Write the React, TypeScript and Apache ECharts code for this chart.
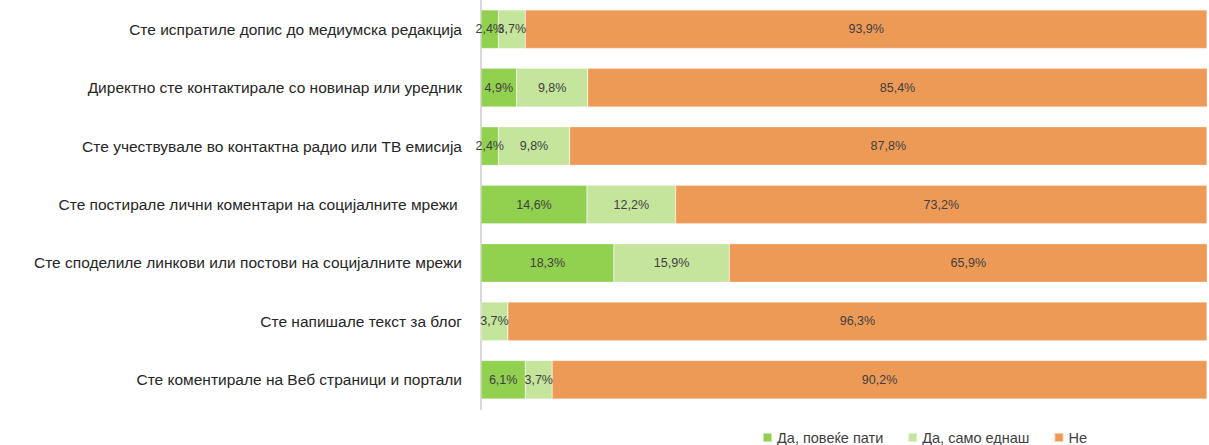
import React, { useEffect, useRef } from "react";
import * as echarts from "echarts";

const categories = [
  "Сте испратиле допис до медиумска редакција",
  "Директно сте контактирале со новинар или уредник",
  "Сте учествувале во контактна радио или ТВ емисија",
  "Сте постирале лични коментари на социјалните мрежи ",
  "Сте споделиле линкови или постови на социјалните мрежи",
  "Сте напишале текст за блог",
  "Сте коментирале на Веб страници и портали",
];
const seriesNames = ["Да, повеќе пати", "Да, само еднаш", "Не"];
const manyTimes = [2.4, 4.9, 2.4, 14.6, 18.3, 0, 6.1];
const once = [3.7, 9.8, 9.8, 12.2, 15.9, 3.7, 3.7];
const never = [93.9, 85.4, 87.8, 73.2, 65.9, 96.3, 90.2];
const colors = ["#92D050", "#C4E59B", "#ED9A57"];

export default function App() {
  const ref = useRef<HTMLDivElement>(null);
  useEffect(() => {
    if (!ref.current) return;
    const chart = echarts.init(ref.current, undefined, { renderer: "svg" });
    const values = [manyTimes, once, never];
    chart.setOption({
      animation: false,
      textStyle: { fontFamily: "Liberation Sans, Arial, sans-serif" },
      grid: { left: 481, right: 2, top: -3, bottom: 36, containLabel: false },
      legend: {
        top: 425,
        left: 757,
        itemWidth: 9,
        itemHeight: 9,
        itemGap: 24,
        icon: "rect",
        textStyle: { fontSize: 14.5, color: "#404040", fontFamily: "Liberation Sans, Arial, sans-serif" },
        data: seriesNames,
      },
      xAxis: { type: "value", min: 0, max: 100, show: false },
      yAxis: {
        type: "category",
        inverse: true,
        data: categories,
        axisLine: { show: true, lineStyle: { color: "#D9D9D9", width: 2 } },
        axisTick: { show: false },
        axisLabel: { fontSize: 15.5, color: "#262626", margin: 19, fontFamily: "Liberation Sans, Arial, sans-serif" },
      },
      series: seriesNames.map((name, i) => ({
        name,
        type: "bar",
        stack: "total",
        barWidth: "66%",
        itemStyle: { color: colors[i], borderColor: "rgba(255,255,255,0.5)", borderWidth: 0.5 },
        label: {
          show: true,
          position: "inside",
          color: "#404040",
          fontSize: 12.5,
          fontFamily: "Liberation Sans, Arial, sans-serif",
          formatter: (p: any) => (p.value > 0 ? p.value.toFixed(1).replace(".", ",") + "%" : ""),
        },
        data: values[i],
      })),
    });
    return () => chart.dispose();
  }, []);
  return <div ref={ref} style={{ position: "absolute", left: 0, top: 0, width: 1209, height: 445 }} />;
}
